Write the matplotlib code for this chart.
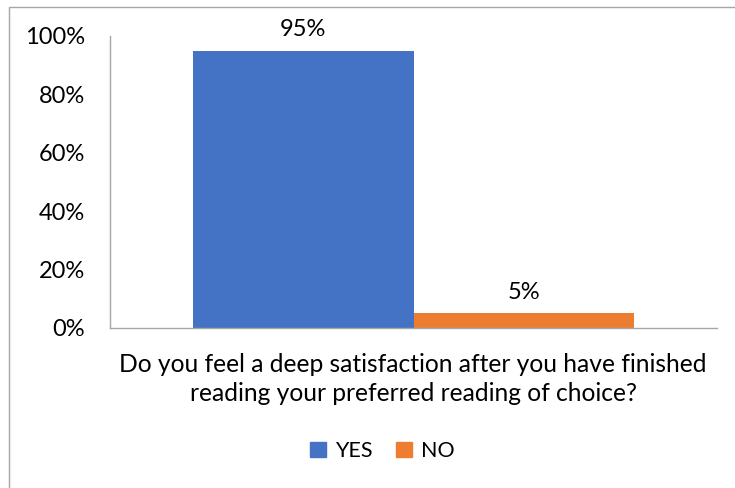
import matplotlib
matplotlib.use("Agg")
import matplotlib.pyplot as plt
import matplotlib.patches as mpatches
import numpy as np

# --- data ---
series = ["YES", "NO"]
values = [0.95, 0.05]
colors = ["#4472C4", "#ED7D31"]
yticks = [0, 0.2, 0.4, 0.6, 0.8, 1.0]
question = ("Do you feel a deep satisfaction after you have finished\n"
            "reading your preferred reading of choice?")

TEXT = "#000000"
AXIS = "#a6a6a6"
FONT = "Lato"
FS = 17

fig = plt.figure(figsize=(7.35, 4.88), dpi=100)
fig.patch.set_facecolor("white")

# chart frame (only left/top edges fall inside the image)
fig.add_artist(mpatches.Rectangle((9 / 735, -0.1), 1.2, (488 - 7) / 488 + 0.1,
                                  transform=fig.transFigure, fill=False,
                                  edgecolor="#a6a6a6", linewidth=1.0))

ax = fig.add_axes([110 / 735, 160 / 488, 607 / 735, 292 / 488])

bar_w = 0.3633
x = np.arange(len(series)) * bar_w - bar_w / 2
bars = ax.bar(x, values, bar_w, color=colors, label=series)

for b, v in zip(bars, values):
    ax.text(b.get_x() + b.get_width() / 2, v + 0.035, f"{v:.0%}",
            ha="center", va="bottom", fontsize=FS, color=TEXT, family=FONT)

ax.set_xlim(-0.5, 0.5)
ax.set_ylim(0, 1.0)
ax.set_yticks(yticks)
ax.set_yticklabels([f"{t:.0%}" for t in yticks], fontsize=FS, family=FONT, color=TEXT)
ax.set_xticks([])
ax.tick_params(axis="y", length=0, pad=18)

for side in ["top", "right"]:
    ax.spines[side].set_visible(False)
for side in ["left", "bottom"]:
    ax.spines[side].set_color(AXIS)
    ax.spines[side].set_linewidth(1.0)

fig.text(413 / 735, 1 - 379 / 488, question, ha="center", va="center",
         fontsize=17.7, family=FONT, color=TEXT, linespacing=1.32)

handles = [mpatches.Patch(color=c, label=s) for s, c in zip(series, colors)]
fig.legend(handles=handles, loc="center", bbox_to_anchor=(382 / 735, 1 - 451 / 488),
           ncol=2, frameon=False, prop={"family": FONT, "size": 15.5},
           handlelength=0.75, handleheight=0.75, handletextpad=0.4, columnspacing=1.1)

plt.savefig("out.png", dpi=100, facecolor="white")
plt.close()
